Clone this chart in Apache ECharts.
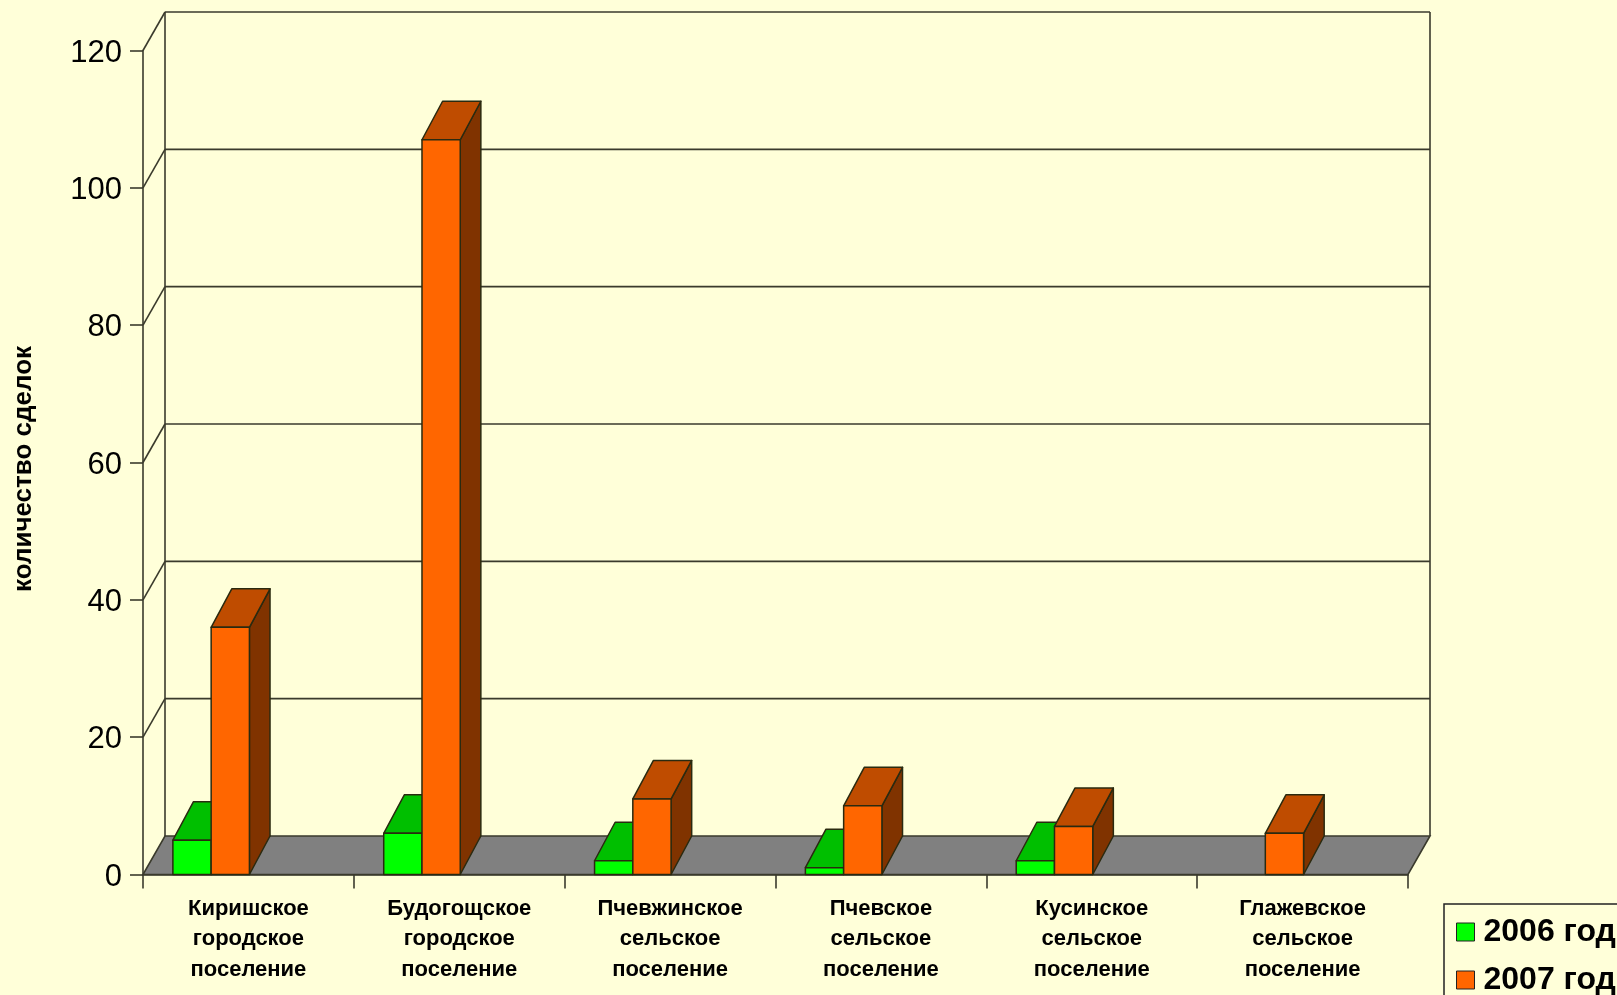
<!DOCTYPE html>
<html><head><meta charset="utf-8">
<style>html,body{margin:0;padding:0;background:#ffffd9}#c{width:1617px;height:995px}</style>
<script src="https://cdn.jsdelivr.net/npm/echarts@6/dist/echarts.min.js"></script>
</head><body><div id="c"></div>
<script>
var categories = ['Киришское\nгородское\nпоселение','Будогощское\nгородское\nпоселение','Пчевжинское\nсельское\nпоселение','Пчевское\nсельское\nпоселение','Кусинское\nсельское\nпоселение','Глажевское\nсельское\nпоселение'];
var values2006 = [5, 6, 2, 1, 2, null];
var values2007 = [36, 107, 11, 10, 7, 6];
var yTicks = [0, 20, 40, 60, 80, 100, 120];
var yAxisTitle = 'количество сделок';
var seriesNames = ['2006 год', '2007 год'];

var FONT = '"Liberation Sans", Arial, sans-serif';
var LINE = '#3a3a2c';
var DX = 22, DY = -38.5, BAR_DX = 20.6, BAR_RATIO = 0.1815, BAR_SHIFT = 1;

function bar3d(slot, front, top, flank) {
  return function (params, api) {
    var v = api.value(1);
    if (v == null || isNaN(v)) return null;
    var c = api.coord([api.value(0), v]);
    var base = api.coord([api.value(0), 0]);
    var band = api.size([1, 0])[0], w = band * BAR_RATIO;
    var x0 = c[0] - w * slot + BAR_SHIFT, x1 = x0 + w, yt = c[1], yb = base[1];
    var st = {stroke: '#2a2a10', lineWidth: 1.5, lineJoin: 'round'};
    return {type: 'group', children: [
      {type: 'polygon', shape: {points: [[x1, yb], [x1 + BAR_DX, yb + DY], [x1 + BAR_DX, yt + DY], [x1, yt]]}, style: Object.assign({fill: flank}, st)},
      {type: 'polygon', shape: {points: [[x0, yt], [x1, yt], [x1 + BAR_DX, yt + DY], [x0 + BAR_DX, yt + DY]]}, style: Object.assign({fill: top}, st)},
      {type: 'rect', shape: {x: x0, y: yt, width: w, height: yb - yt}, style: Object.assign({fill: front}, st)}
    ]};
  };
}

function walls(params, api) {
  var v = api.value(1), g = params.coordSys;
  var y = api.coord([0, v])[1], xl = g.x, xr = g.x + g.width;
  var st = {stroke: LINE, lineWidth: 1.6, fill: null};
  var kids = [];
  if (v === yTicks[0]) {
    kids.push({type: 'polygon', z2: 1, shape: {points: [[xl, y], [xr, y], [xr + DX, y + DY], [xl + DX, y + DY]]}, style: {fill: '#808080', stroke: LINE, lineWidth: 1.6}});
    var yTop = api.coord([0, yTicks[yTicks.length - 1]])[1] + DY;
    kids.push({type: 'line', shape: {x1: xl + DX, y1: y + DY, x2: xl + DX, y2: yTop}, style: st});
    kids.push({type: 'line', shape: {x1: xr + DX, y1: y + DY, x2: xr + DX, y2: yTop}, style: st});
  } else {
    kids.push({type: 'line', shape: {x1: xl, y1: y, x2: xl + DX, y2: y + DY}, style: st});
    kids.push({type: 'line', shape: {x1: xl + DX, y1: y + DY, x2: xr + DX, y2: y + DY}, style: st});
  }
  return {type: 'group', children: kids};
}

var chart = echarts.init(document.getElementById('c'), null, {renderer: 'canvas'});
chart.setOption({
  animation: false,
  backgroundColor: '#ffffd9',
  grid: {left: 143, right: 209, top: 50.5, bottom: 120.5, containLabel: false},
  xAxis: {
    type: 'category', data: categories, boundaryGap: true,
    axisLine: {show: true, onZero: false, lineStyle: {color: LINE, width: 1.6}},
    axisTick: {show: true, length: 14, alignWithLabel: false, lineStyle: {color: LINE, width: 1.6}},
    axisLabel: {interval: 0, margin: 19, color: '#000', fontFamily: FONT, fontWeight: 'bold', fontSize: 22, lineHeight: 30.5},
    splitLine: {show: false}
  },
  yAxis: {
    type: 'value', min: 0, max: 120, interval: 20,
    axisLine: {show: true, lineStyle: {color: LINE, width: 1.6}},
    axisTick: {show: true, length: 13, lineStyle: {color: LINE, width: 1.6}},
    axisLabel: {
      margin: 21, formatter: '{a|{value}}',
      rich: {a: {color: '#000', fontFamily: FONT, fontSize: 31, padding: [5, 0, 0, 0]}}
    },
    splitLine: {show: false}
  },
  legend: {
    data: seriesNames, orient: 'vertical', left: 1444, top: 904, height: 200, width: 300,
    padding: [12, 30, 40, 12], itemGap: 16, itemWidth: 18, itemHeight: 18, icon: 'rect',
    backgroundColor: '#ffffd9', borderColor: '#222', borderWidth: 1.5,
    itemStyle: {borderColor: '#222', borderWidth: 1},
    textStyle: {color: '#000', fontFamily: FONT, fontWeight: 'bold', fontSize: 32, padding: [0, 0, 0, 4]}
  },
  graphic: [{
    type: 'text', x: 24, y: 469, rotation: Math.PI / 2, silent: true,
    style: {text: yAxisTitle, fill: '#000', font: 'bold 26px ' + FONT, textAlign: 'center', textVerticalAlign: 'middle'}
  }],
  series: [
    {type: 'custom', name: '_walls', silent: true, z: 1, clip: false, renderItem: walls,
      data: yTicks.map(function (t) { return [0, t]; }), encode: {x: 0, y: 1}},
    {type: 'custom', name: seriesNames[0], silent: true, z: 3, clip: false, itemStyle: {color: '#00ff00'},
      renderItem: bar3d(2, '#00ff00', '#00bf00', '#008000'),
      data: values2006.map(function (v, i) { return [i, v]; }), encode: {x: 0, y: 1}},
    {type: 'custom', name: seriesNames[1], silent: true, z: 4, clip: false, itemStyle: {color: '#ff6600'},
      renderItem: bar3d(1, '#ff6600', '#bf4c00', '#803300'),
      data: values2007.map(function (v, i) { return [i, v]; }), encode: {x: 0, y: 1}}
  ]
});
</script></body></html>
